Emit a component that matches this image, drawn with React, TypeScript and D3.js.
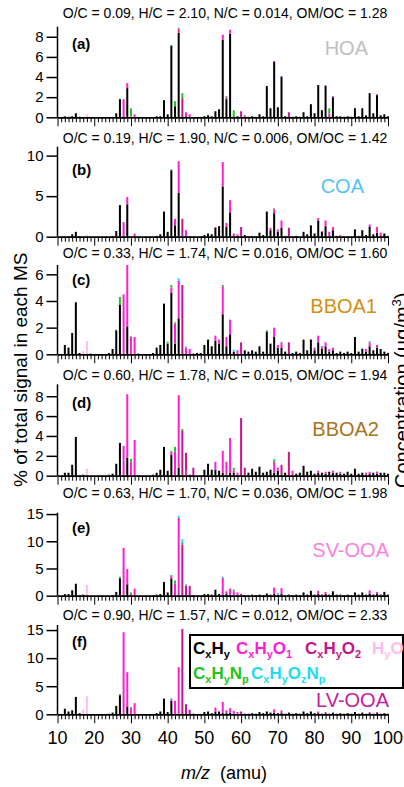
import React, { useEffect, useRef } from "react";
import * as d3 from "d3";

// rows: [m/z, CxHy, CxHyO1, CxHyO2, HyO1, CxHyNp, CxHyOzNp]  (% of total signal)
const families = ["CxHy", "CxHyO1", "CxHyO2", "HyO1", "CxHyNp", "CxHyOzNp"];
const familyColors = ["#000000", "#ff1fd0", "#c4168c", "#ffbdee", "#22c322", "#22dcef"];

const hoaMS = [
  [12, 0.1], [13, 0.05], [14, 0.1], [15, 0.4], [16, 0.05], [18, 0, 0, 0, 0.3],
  [26, 0.4], [27, 1.8, 0, 0, 0, 0.05], [28, 0, 1.8], [29, 2.9, 0.5], [30, 0, 0.1, 0, 0, 0.8], [31, 0, 0.3],
  [37, 0.1], [38, 0.1], [39, 1.7], [40, 0.3], [41, 7.1, 0, 0, 0, 0.1], [42, 1.1, 0, 0, 0, 0.5],
  [43, 8.4, 0.4, 0, 0, 0.1], [44, 0, 0, 1.9, 0, 0.5], [45, 0.1, 0.4], [46, 0, 0.3],
  [50, 0.1], [51, 0.2], [52, 0.1], [53, 0.6], [54, 0.8], [55, 7.7, 0.5], [56, 1.8, 0.2, 0, 0, 0.1],
  [57, 8.3, 0.4], [58, 0, 0, 0, 0, 0.7], [59, 0.1], [60, 0, 0, 0.6], [61, 0, 0.2],
  [62, 0.05], [63, 0.1], [64, 0.05], [65, 0.3], [66, 0.1], [67, 3.1], [68, 0.9], [69, 5.5, 0.1],
  [70, 1.0], [71, 4.0, 0.1], [72, 0.1], [73, 0, 0, 0.5], [74, 0.05], [75, 0.1], [76, 0.05],
  [77, 0.5], [78, 0.1], [79, 1.3], [80, 0.4], [81, 3.2], [82, 0.7], [83, 3.1, 0.1], [84, 0, 0.4, 0, 0, 0.5],
  [85, 2.0, 0.1], [86, 0.1], [87, 0.1], [88, 0.05], [89, 0.1], [90, 0.05],
  [91, 0.9], [92, 0.1], [93, 0.9], [94, 0.2], [95, 2.4], [96, 0.4], [97, 2.2, 0.1], [98, 0.2], [99, 0.3], [100, 0.1],
];

const coaMS = [
  [12, 0.05], [13, 0.05], [14, 0.3], [15, 0.6], [16, 0.05], [18, 0, 0, 0, 0.2],
  [25, 0.1], [26, 0.7], [27, 3.9], [28, 0, 1.8], [29, 4.0, 0.9], [30, 0.05], [31, 0, 0.4],
  [37, 0.1], [38, 0.3], [39, 3.1], [40, 0.6], [41, 8.2, 0, 0, 0, 0.1], [42, 1.4, 0.8], [43, 5.4, 3.9],
  [44, 0, 0, 2.2], [45, 0.1, 0.7], [46, 0.05],
  [50, 0.2], [51, 0.4], [52, 0.3], [53, 1.1, 0.1], [54, 1.3], [55, 6.2, 3.0], [56, 1.2, 0.5], [57, 3.0, 1.5],
  [58, 0, 0.4], [59, 0.1, 0.2], [60, 0, 0.1, 1.1], [61, 0.2],
  [62, 0.05], [63, 0.1], [64, 0.05], [65, 0.5], [66, 0.2], [67, 3.1], [68, 0.8, 0.3], [69, 2.9, 0.5, 0, 0, 0.1],
  [70, 0.6, 0.3], [71, 1.1, 0.9], [72, 0.1], [73, 0, 0, 1.1], [74, 0.05], [75, 0.1],
  [77, 0.6], [78, 0.3], [79, 1.4], [80, 0.4], [81, 2.0, 0.3], [82, 0.6, 0.1], [83, 1.3, 0.7], [84, 0.1, 0.5],
  [85, 0.8, 0.4], [86, 0.1], [87, 0, 0.2], [89, 0.05],
  [91, 0.9], [92, 0.1], [93, 0.8], [94, 0.2], [95, 1.2, 0.3], [96, 0.3], [97, 0.5, 0.7], [98, 0, 0.5], [99, 0.4], [100, 0.1],
];

const bboa1MS = [
  [12, 0.7], [13, 0.5], [14, 1.6], [15, 3.9], [16, 0.1], [17, 0, 0, 0, 0.25], [18, 0, 0, 0, 1.0], [19, 0.05],
  [24, 0.1], [25, 0.4], [26, 1.8, 0, 0, 0, 0.05], [27, 3.7, 0, 0, 0, 0.6], [28, 0, 4.5], [29, 2.1, 4.6],
  [30, 0, 1.3, 0, 0, 0.05], [31, 0, 1.3], [32, 0.05],
  [36, 0.1], [37, 0.5], [38, 0.7], [39, 3.8], [40, 0.8, 0, 0, 0, 0.15], [41, 4.6, 0.4, 0, 0, 0.2],
  [42, 0.8, 1.5, 0, 0, 0.1], [43, 2.7, 2.8, 0, 0, 0, 0.2], [44, 0, 0, 5.2], [45, 0, 0.5, 0, 0, 0, 0.1], [46, 0, 0.4],
  [47, 0.05], [48, 0.1], [49, 0.1],
  [50, 0.7], [51, 1.1], [52, 0.6], [53, 1.0, 0.4], [54, 0.8, 0.3], [55, 3.0, 2.1, 0, 0, 0.1], [56, 0.6, 0.7],
  [57, 1.5, 1.1], [58, 0.2, 0, 0, 0, 0, 0.15], [59, 0, 0.3], [60, 0, 0, 0.9],
  [61, 0.3], [62, 0.2], [63, 0.3], [64, 0.2], [65, 0.6], [66, 0.2], [67, 1.7, 0, 0, 0, 0.1], [68, 0.8],
  [69, 1.3, 0.7], [70, 0.5, 0.2], [71, 0.5, 0.4, 0, 0, 0, 0.05], [72, 0.2], [73, 0, 0, 0.9], [74, 0.1], [75, 0.2], [76, 0.1],
  [77, 1.1], [78, 0.3], [79, 1.1, 0.05], [80, 0.3, 0.2], [81, 0.9, 0.5], [82, 0.4, 0.2], [83, 0.6, 0.3], [84, 0.2, 0.2],
  [85, 0.3, 0.2], [86, 0.1], [87, 0.2], [88, 0.1], [89, 0.2], [90, 0.1],
  [91, 1.3], [92, 0.2], [93, 0.4, 0, 0, 0, 0, 0.05], [94, 0.2, 0.2], [95, 0.6, 0.3, 0, 0, 0, 0.1], [96, 0.3],
  [97, 0.5, 0.2], [98, 0.4], [99, 0.2], [100, 0.1],
];

const bboa2MS = [
  [12, 0.3], [13, 0.3], [14, 1.1], [15, 3.9], [16, 0.05], [17, 0.1], [18, 0, 0, 0, 0.7],
  [24, 0.1], [25, 0.2], [26, 1.2], [27, 3.3], [28, 0, 3.0], [29, 1.8, 6.4], [30, 0, 1.4, 0, 0, 0.3], [31, 0, 3.6], [32, 0.05],
  [36, 0.1], [37, 0.3], [38, 0.6], [39, 2.9], [40, 0.5], [41, 2.1, 0.3, 0, 0, 0.1], [42, 0, 2.4, 0, 0, 0.5],
  [43, 0.8, 7.3], [44, 0, 0, 4.5, 0, 0.2], [45, 0, 0.5, 1.8], [46, 0.1], [47, 0, 0, 0.8],
  [50, 0.6], [51, 1.2], [52, 0.6], [53, 0.6, 0.8], [54, 0.5], [55, 0.3, 2.2], [56, 0, 1.4], [57, 0.3, 3.5],
  [58, 0.3, 0.2, 0, 0, 0.3], [59, 0, 0.3], [60, 0, 0, 5.8], [61, 0, 0, 0.8],
  [62, 0.3], [63, 0.7], [64, 0.4], [65, 0.9], [66, 0.3], [67, 0.4], [68, 0.6], [69, 0.3, 1.1, 0, 0, 0.2, 0.1],
  [70, 0.5, 0.3], [71, 0, 0, 1.1], [72, 0.3], [73, 0, 0, 2.4], [74, 0, 0.5], [75, 0.2], [76, 0.3],
  [77, 1.0], [78, 0.4], [79, 0.5], [80, 0.2], [81, 0.3, 0.2], [82, 0.3], [83, 0.2, 0.2], [84, 0.4],
  [85, 0.3, 0.2], [86, 0.3], [87, 0.2, 0.2], [88, 0.2], [89, 0.4], [90, 0.2],
  [91, 0.7], [92, 0.2], [93, 0.3], [94, 0.1, 0.2], [95, 0.2, 0.2], [96, 0.3], [97, 0.2, 0.2, 0, 0, 0, 0.05],
  [98, 0.3], [99, 0.3], [100, 0.2],
];

const svooaMS = [
  [12, 0.3], [13, 0.3], [14, 1.0], [15, 2.2], [16, 0.1], [17, 0.2], [18, 0, 0, 0, 2.0],
  [25, 0.1], [26, 0.7], [27, 3.2, 0, 0, 0, 0.3], [28, 0, 8.8], [29, 2.1, 2.8], [30, 0, 0.3, 0, 0, 0.3], [31, 0, 1.3],
  [36, 0.1], [37, 0.2], [38, 0.3], [39, 2.5], [40, 0.6], [41, 3.2, 0.4, 0, 0, 0.2], [42, 0, 2.2, 0, 0, 0.6],
  [43, 0, 14.3, 0, 0, 0, 0.4], [44, 0, 0, 9.4, 0, 0.4, 0.6], [45, 0, 0, 1.9, 0, 0, 0.2], [46, 0, 0, 1.8], [47, 0.1],
  [50, 0.3], [51, 0.3], [52, 0.2], [53, 1.1], [54, 0.3], [55, 0.2, 3.1, 0, 0, 0, 0.2], [56, 0.3, 0.5], [57, 0.2, 1.1],
  [58, 0, 0.8, 0, 0, 0.3], [59, 0, 0.6], [60, 0, 0, 0.3], [61, 0.1],
  [62, 0.1], [63, 0.2], [64, 0.1], [65, 0.2], [66, 0.1], [67, 0.4], [68, 0.2], [69, 0.3, 1.2], [70, 0.2, 0, 0, 0, 0, 0.3],
  [71, 0.3, 1.1], [72, 0.1], [73, 0.2], [74, 0.1], [75, 0.2], [76, 0.1],
  [77, 0.6], [78, 0.2], [79, 0.9], [80, 0.2], [81, 0.3, 0.6], [82, 0.2], [83, 0.3, 0.4], [84, 0.2], [85, 0.8],
  [86, 0.2], [87, 0.2], [88, 0.1], [89, 0.2], [90, 0.1],
  [91, 0.6], [92, 0.2], [93, 0.6], [94, 0.2], [95, 0.4, 0.6], [96, 0.2], [97, 0.3, 0.4], [98, 0.2], [99, 0.7], [100, 0.2],
];

const lvooaMS = [
  [12, 1.0], [13, 0.5], [14, 0.7], [15, 3.1], [16, 0.2], [17, 0, 0, 0, 0.8], [18, 0, 0, 0, 3.2],
  [24, 0.1], [25, 0.3], [26, 1.5], [27, 3.4, 0, 0, 0, 0.2], [28, 0, 14.6], [29, 1.4, 6.1], [30, 0, 1.2, 0, 0, 0.1], [31, 0, 2.0],
  [37, 0.2], [38, 0.5], [39, 2.8], [40, 0.4], [41, 2.4, 0.3, 0, 0, 0.1, 0.1], [42, 0, 2.4], [43, 0, 8.4],
  [44, 0, 0, 15.2], [45, 0, 0, 1.8], [46, 0, 0, 0.8], [47, 0.1],
  [50, 0.4], [51, 0.5], [52, 0.2], [53, 0.4, 0.8], [54, 0.5], [55, 0.2, 2.0], [56, 0.2, 0.5], [57, 0.3, 0.8],
  [58, 0, 0.6], [59, 0, 0.4], [60, 0, 0, 0.5], [61, 0.1],
  [62, 0.1], [63, 0.2], [64, 0.1], [65, 0.4], [66, 0.2], [67, 0.5], [68, 0.3], [69, 0.3, 0.6], [70, 0.2],
  [71, 0.2, 0.5], [72, 0.1], [73, 0.3], [74, 0.1], [75, 0.2], [76, 0.1],
  [77, 0.5], [78, 0.2], [79, 0.5], [80, 0.2], [81, 0.2, 0.3], [82, 0.1], [83, 0.2, 0.2], [84, 0.1], [85, 0.3],
  [86, 0.1], [87, 0.2], [88, 0.1], [89, 0.2], [90, 0.1],
  [91, 0.4], [92, 0.1], [93, 0.3], [94, 0.1], [95, 0.2, 0.2], [96, 0.1], [97, 0.2, 0.2], [98, 0.1], [99, 0.2], [100, 0.1],
];

const panelIds = ["(a)", "(b)", "(c)", "(d)", "(e)", "(f)"];
const factorNames = ["HOA", "COA", "BBOA1", "BBOA2", "SV-OOA", "LV-OOA"];
const factorColors = ["#c0c0c0", "#55c3f2", "#d58f15", "#a9741c", "#ff7fdf", "#c4209b"];
const elementalRatios = [
  "O/C = 0.09, H/C = 2.10, N/C = 0.014, OM/OC = 1.28",
  "O/C = 0.19, H/C = 1.90, N/C = 0.006, OM/OC = 1.42",
  "O/C = 0.33, H/C = 1.74, N/C = 0.016, OM/OC = 1.60",
  "O/C = 0.60, H/C = 1.78, N/C = 0.015, OM/OC = 1.94",
  "O/C = 0.63, H/C = 1.70, N/C = 0.036, OM/OC = 1.98",
  "O/C = 0.90, H/C = 1.57, N/C = 0.012, OM/OC = 2.33",
];
const spectra = [hoaMS, coaMS, bboa1MS, bboa2MS, svooaMS, lvooaMS];
const yTicks = [[0, 2, 4, 6, 8], [0, 5, 10], [0, 2, 4, 6], [0, 2, 4, 6, 8], [0, 5, 10, 15], [0, 5, 10, 15]];
const yMaxes = [9.0, 11.1, 6.7, 9.2, 15.25, 15.9];
const xTickLabels = [10, 20, 30, 40, 50, 60, 70, 80, 90, 100];

const legendRows = [
  [["C_xH_y", 0], ["C_xH_yO_1", 1], ["C_xH_yO_2", 2], ["H_yO_1", 3]],
  [["C_xH_yN_p", 4], ["C_xH_yO_zN_p", 5]],
];

// layout (px) of each panel: title baseline, axis top, zero line, letter baseline, factor name baseline, name right edge
const layout = [
  { titleY: 18, top: 26.7, base: 117.3, idY: 49, nameY: 55, nameX: 368 },
  { titleY: 143, top: 146.7, base: 236.7, idY: 175, nameY: 193, nameX: 364 },
  { titleY: 258, top: 265, base: 354.3, idY: 285, nameY: 313, nameX: 377 },
  { titleY: 380, top: 384.3, base: 475.7, idY: 408, nameY: 436, nameX: 379 },
  { titleY: 498, top: 512.7, base: 595.7, idY: 533, nameY: 557, nameX: 389 },
  { titleY: 620, top: 625, base: 714.3, idY: 647, nameY: 707, nameX: 389 },
];

const FONT = "Liberation Sans, Arial, Helvetica, sans-serif";

function formula(textSel, str, size, subSize) {
  // "_" marks the next char as subscript
  let sub = false;
  let shifted = false;
  for (const ch of str) {
    if (ch === "_") { sub = true; continue; }
    const t = textSel.append("tspan").text(ch);
    if (sub && !shifted) { t.attr("dy", 4).attr("font-size", subSize); shifted = true; }
    else if (sub) { t.attr("font-size", subSize); }
    else if (shifted) { t.attr("dy", -4).attr("font-size", size); shifted = false; }
    sub = false;
  }
  if (shifted) textSel.append("tspan").attr("dy", -4).text("");
}

export default function App() {
  const ref = useRef(null);
  const width = 404;
  const height = 787;

  useEffect(() => {
    const svg = d3.select(ref.current);
    svg.selectAll("*").remove();
    svg.attr("font-family", FONT);

    const x = d3.scaleLinear().domain([10, 100]).range([57.5, 388]);
    const stack = d3.stack().keys(families);

    spectra.forEach((rows, i) => {
      const L = layout[i];
      const y = d3.scaleLinear().domain([0, yMaxes[i]]).range([L.base, L.top]);
      const g = svg.append("g");

      const table = rows.map((r) => {
        const o = { mz: r[0] };
        families.forEach((f, k) => (o[f] = r[k + 1] || 0));
        return o;
      });
      const series = stack(table);

      // bars
      g.selectAll(".layer")
        .data(series)
        .join("g")
        .attr("fill", (d, k) => familyColors[k])
        .selectAll("rect")
        .data((d) => d.filter((s) => s[1] - s[0] > 0))
        .join("rect")
        .attr("x", (d) => x(d.data.mz) - 1)
        .attr("width", 2)
        .attr("y", (d) => y(d[1]))
        .attr("height", (d) => y(d[0]) - y(d[1]));

      // left axis
      const yAxis = g.append("g")
        .attr("transform", `translate(${x(10)},0)`)
        .call(
          d3.axisLeft(y)
            .tickValues(yTicks[i])
            .tickFormat(d3.format("d"))
            .tickSize(11)
            .tickPadding(3)
            .tickSizeOuter(0)
        );
      yAxis.select(".domain").attr("stroke-width", 1.5).attr("d", `M0,${L.top}V${L.base}`);
      yAxis.selectAll(".tick line").attr("stroke-width", 1.5);
      yAxis.selectAll("text").attr("font-size", 15).attr("font-family", FONT).attr("fill", "#000");

      // bottom axis with a tick at every m/z
      const xAxis = g.append("g")
        .attr("transform", `translate(0,${L.base})`)
        .call(d3.axisBottom(x).tickValues(d3.range(10, 101)).tickSize(5).tickFormat("").tickSizeOuter(0));
      xAxis.select(".domain").attr("stroke-width", 1.8);
      xAxis.selectAll(".tick line")
        .attr("stroke-width", 1)
        .attr("y2", (d) => (d % 10 === 0 ? 9 : 5));

      // title with elemental ratios
      g.append("text")
        .attr("x", 225)
        .attr("y", L.titleY)
        .attr("text-anchor", "middle")
        .attr("font-size", 14)
        .text(elementalRatios[i]);

      g.append("text")
        .attr("x", 72)
        .attr("y", L.idY)
        .attr("font-size", 15)
        .attr("font-weight", "700")
        .text(panelIds[i]);

      g.append("text")
        .attr("x", L.nameX)
        .attr("y", L.nameY)
        .attr("text-anchor", "end")
        .attr("font-size", 20)
        .attr("fill", factorColors[i])
        .text(factorNames[i]);

      if (i === spectra.length - 1) {
        g.selectAll(".xl")
          .data(xTickLabels)
          .join("text")
          .attr("x", (d) => x(d))
          .attr("y", 744)
          .attr("text-anchor", "middle")
          .attr("font-size", 18)
          .text((d) => d);
      }
    });

    // legend
    const lg = svg.append("g");
    lg.append("rect")
      .attr("x", 190)
      .attr("y", 635)
      .attr("width", 213)
      .attr("height", 53)
      .attr("fill", "#fff")
      .attr("stroke", "#000")
      .attr("stroke-width", 2);
    const legendX = [[193, 236, 305, 372], [193, 251]];
    legendRows.forEach((row, r) => {
      row.forEach(([label, k], c) => {
        const t = lg.append("text")
          .attr("x", legendX[r][c])
          .attr("y", r === 0 ? 654 : 679)
          .attr("font-size", 17)
          .attr("font-weight", "700")
          .attr("fill", familyColors[k]);
        formula(t, label, 17, 11);
      });
    });

    // axis titles
    const xl = svg.append("text")
      .attr("x", 224)
      .attr("y", 779)
      .attr("text-anchor", "middle")
      .attr("font-size", 18);
    xl.append("tspan").attr("font-style", "italic").text("m/z");
    xl.append("tspan").text("\u00a0 (amu)");

    svg.append("text")
      .attr("transform", `translate(27,487) rotate(-90)`)
      .attr("font-size", 19)
      .text("% of total signal in each MS");

    const cl = svg.append("text")
      .attr("transform", `translate(409,488) rotate(-90)`)
      .attr("font-size", 20);
    cl.append("tspan").text("Concentration (\u00b5g/m");
    cl.append("tspan").attr("dy", -8).attr("font-size", 13).text("3");
    cl.append("tspan").attr("dy", 8).text(")");
  }, []);

  return (
    <svg
      ref={ref}
      width={width}
      height={height}
      style={{ position: "absolute", left: 0, top: 0, display: "block", background: "#fff" }}
    />
  );
}
